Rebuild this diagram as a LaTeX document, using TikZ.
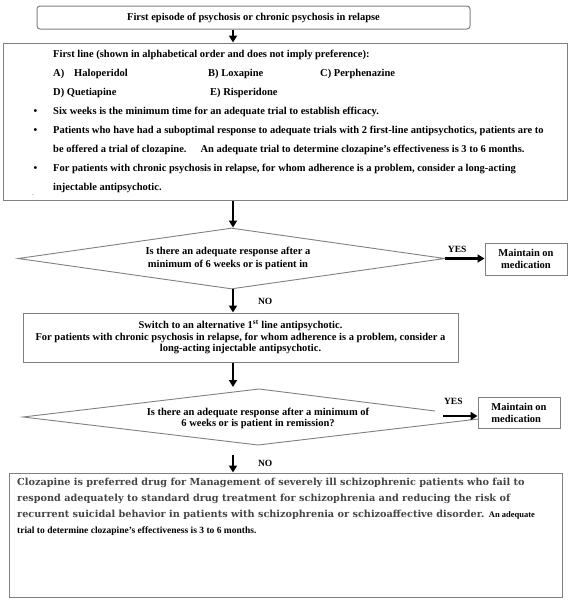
\documentclass[tikz,border=0pt]{standalone}
\usepackage{fontspec}
\setmainfont{Liberation Serif}
\newfontfamily\gfont{DejaVu Serif}
\usepackage{xcolor}
\usetikzlibrary{positioning,arrows.meta,shapes.geometric}
\definecolor{cLine}{HTML}{808080}
\definecolor{cSoft}{HTML}{454545}

\begin{document}
\begin{tikzpicture}[x=1pt, y=-1pt,
  font=\fontsize{10.5}{19}\selectfont\bfseries,
  >={Triangle[length=7pt,width=8pt]},
  box/.style={draw=cLine, line width=1pt, inner sep=0pt, align=center},
  edge/.style={draw=cLine, line width=0.9pt},
  flow/.style={->, draw=black, line width=2.2pt},
  txt/.style={inner sep=0pt, align=left, anchor=north west},
  lbl/.style={inner sep=0pt, font=\fontsize{9.5}{10}\selectfont\bfseries},
]
\useasboundingbox (0,0) rectangle (575,603);
\coordinate (axis) at (233,0);

% ---- start + first line box
\node[box, rounded corners=3pt, minimum width=433pt, minimum height=23pt] (start) at (253.5,17.5)
  {First episode of psychosis or chronic psychosis in relapse};
\node[box, minimum width=564pt, minimum height=157pt] (firstline) at (285,121.5) {};
\node[txt] (firsttxt) at (53,50)
  {First line (shown in alphabetical order and does not imply preference):\\
   \makebox[155pt][l]{\makebox[21pt][l]{A)}Haloperidol}\makebox[112pt][l]{B) Loxapine}C) Perphenazine\\
   \makebox[157pt][l]{D) Quetiapine}E) Risperidone\\
   \llap{\textbullet\hspace{16pt}}Six weeks is the minimum time for an adequate trial to establish efficacy.\\
   \llap{\textbullet\hspace{16pt}}Patients who have had a suboptimal response to adequate trials with 2 first-line antipsychotics, patients are to\\
   be offered a trial of clozapine.\hspace{1em} An adequate trial to determine clozapine's effectiveness is 3 to 6 months.\\
   \llap{\textbullet\hspace{16pt}}For patients with chronic psychosis in relapse, for whom adherence is a problem, consider a long-acting\\
   injectable antipsychotic.};
\node[inner sep=0pt, font=\fontsize{6}{6}\selectfont] (stray) at (33,195) {.};

% ---- first decision
\node[diamond, draw=cLine, line width=0.9pt, minimum width=427pt, minimum height=61pt, inner sep=0pt] (dia1) at (231.5,258.5) {};
\node[inner sep=0pt, align=center, font=\fontsize{10.5}{13}\selectfont\bfseries] (q1) at (228,258)
  {Is there an adequate response after a\\minimum of 6 weeks or is patient in};
\node[box, minimum width=82pt, minimum height=32pt, font=\fontsize{10.5}{12}\selectfont\bfseries] (keep1) at (526,259)
  {Maintain on\\medication};

% ---- switch box
\node[box, minimum width=435pt, minimum height=49pt, font=\fontsize{10.5}{11.5}\selectfont\bfseries] (switch) at (240.5,337.5)
  {Switch to an alternative 1\textsuperscript{st} line antipsychotic.\\
   For patients with chronic psychosis in relapse, for whom adherence is a problem, consider a\\
   long-acting injectable antipsychotic.};

% ---- second decision
\coordinate (q2w) at (23,417);
\coordinate (q2n) at (259,389);
\coordinate (q2e) at (435,411);
\coordinate (q2s) at (258,445);
\coordinate (q2t) at (478,419);
\coordinate (q2in) at (233,387);
\coordinate (q2out) at (233,455);
\coordinate (yes2) at (443,416);
\draw[edge] (q2e) -- (q2n) -- (q2w) -- (q2s) -- (q2t);
\node[inner sep=0pt, align=center, font=\fontsize{10.5}{11.5}\selectfont\bfseries] (q2) at (258,418.5)
  {Is there an adequate response after a minimum of\\6 weeks or is patient in remission?};
\node[box, minimum width=82pt, minimum height=31pt, align=left, font=\fontsize{10.5}{12}\selectfont\bfseries] (keep2) at (519,412.5)
  {Maintain on\\medication\hspace{10pt}};

% ---- clozapine box
\node[box, minimum width=553pt, minimum height=124pt] (cloz) at (285.5,535) {};
\node[txt, text=cSoft, font=\gfont\fontsize{9.7}{16}\selectfont\bfseries] (cloztxt) at (17,478)
  {Clozapine is preferred drug for Management of severely ill schizophrenic patients who fail to\\
   respond adequately to standard drug treatment for schizophrenia and reducing the risk of\\
   recurrent suicidal behavior in patients with schizophrenia or schizoaffective disorder. {\rmfamily\color{black}\fontsize{8.5}{16}\selectfont An adequate}\\
   {\rmfamily\color{black}\fontsize{9.5}{16}\selectfont trial to determine clozapine's effectiveness is 3 to 6 months.}};

% ---- connectors
\draw[flow] (start.south -| axis) -- (firstline.north -| axis);
\draw[flow] (firstline.south -| axis) -- (dia1.north -| axis);
\draw[flow] (dia1.south -| axis) -- node[lbl, right=24pt] {NO} (switch.north -| axis);
\draw[flow] (dia1.east) -- node[lbl, pos=0.3, above=5pt] {YES} (dia1.east -| keep1.west);
\draw[flow] (switch.south -| axis) -- (q2in);
\draw[flow] (yes2) -- node[lbl, pos=0.3, above=10pt] {YES} (yes2 -| keep2.west);
\draw[flow] (q2out) -- node[lbl, right=24pt] {NO} (cloz.north -| axis);
\end{tikzpicture}
\end{document}
